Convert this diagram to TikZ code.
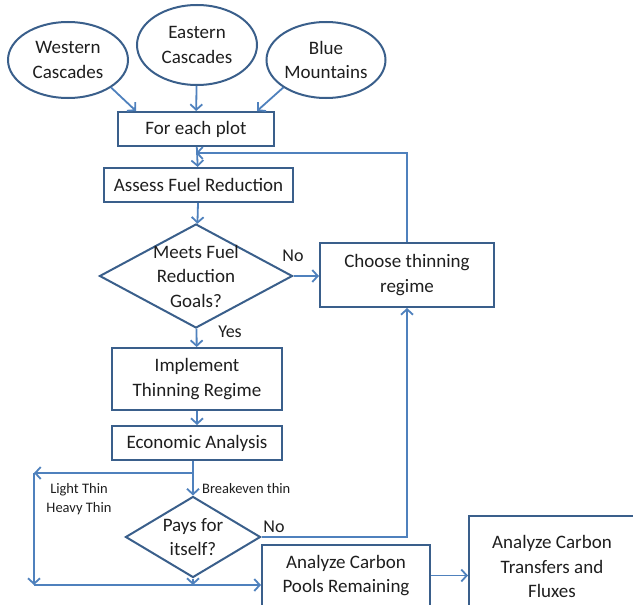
\documentclass[tikz,border=0pt]{standalone}
\usepackage{fontspec}
\setmainfont{Carlito}
\usepackage{tikz}
\usetikzlibrary{shapes.geometric, arrows.meta}
\definecolor{linkblue}{RGB}{79,129,189}
\definecolor{edgeblue}{RGB}{58,95,139}
\definecolor{inktext}{RGB}{30,30,30}
\tikzset{
  box/.style={draw=edgeblue, line width=2pt, rectangle, align=center, text=inktext,
    font=\fontsize{19}{24.5}\selectfont, inner sep=0pt},
  region/.style={box, ellipse},
  check/.style={box, diamond, inner sep=-10pt},
  flow/.style={draw=linkblue, line width=1.8pt, -{Straight Barb[length=5.5pt,width=12pt]}},
  tag/.style={text=inktext, font=\fontsize{18}{22}\selectfont, inner sep=0pt},
  small/.style={text=inktext, font=\fontsize{14.5}{19}\selectfont, inner sep=0pt, align=center}
}

\begin{document}
\begin{tikzpicture}[x=1pt, y=-1pt]
      \clip (0,0) rectangle (633,605);
      \node[region, minimum width=120pt, minimum height=76pt] (west) at (68,60) {Western\\Cascades};
      \node[region, minimum width=120pt, minimum height=80pt] (east) at (197,45) {Eastern\\Cascades};
      \node[region, minimum width=119pt, minimum height=76pt] (blue) at (326,60) {Blue\\Mountains};
      \node[box, minimum width=156pt, minimum height=34pt] (plot) at (196,129) {For each plot};
      \node[box, minimum width=189pt, minimum height=34pt] (assess) at (198.5,185) {Assess Fuel Reduction};
      \node[check, aspect=1.86, minimum width=193pt, minimum height=104pt] (meets) at (196,276) {Meets Fuel\\Reduction\\Goals?};
      \node[box, minimum width=174pt, minimum height=64pt] (choose) at (407,275) {Choose thinning\\regime};
      \node[box, minimum width=170pt, minimum height=62pt] (implement) at (197,379) {Implement\\Thinning Regime};
      \node[box, minimum width=170pt, minimum height=34pt] (econ) at (197,443) {Economic Analysis};
      \node[check, aspect=1.67, minimum width=135pt, minimum height=81pt] (pays) at (193,537) {Pays for\\itself?};
      \node[box, minimum width=168pt, minimum height=61pt] (pools) at (346,575.5) {Analyze Carbon\\Pools Remaining};
      \node[box, minimum width=166pt, minimum height=101pt] (fluxes) at (552,566.5) {Analyze Carbon\\Transfers and\\Fluxes};

      \node[tag] (nomeets) at (293,256) {No};
      \node[tag] (yes) at (230,332) {Yes};
      \node[tag] (nopays) at (274,527) {No};
      \node[small, anchor=west] (breakeven) at (202,489) {Breakeven thin};
      \node[small] (lightheavy) at (79,499) {Light Thin\\Heavy Thin};

      \coordinate (loop) at (196,153);
      \coordinate (split) at (193,473);
      \coordinate (lefttop) at (34,473);
      \coordinate (leftbot) at (34,585);

      \draw[flow] (west.south east) -- ([xshift=19pt]plot.north west);
      \draw[flow] (east) -- (plot);
      \draw[flow] (blue.south west) -- ([xshift=-18pt]plot.north east);
      \draw[flow] (plot) -- (assess);
      \draw[flow] (choose.north) |- (loop);
      \draw[flow] (assess) -- (meets);
      \draw[flow] (meets.east) -- (meets.east -| choose.west);
      \draw[flow] (meets) -- (implement);
      \draw[flow] (implement) -- (econ);
      \draw[flow] (econ.south -| pays.north) -- (pays.north);
      \draw[flow] (split) -- (lefttop);
      \draw[flow] (lefttop) -- (leftbot);
      \draw[flow] (leftbot) -- (leftbot -| pools.west);
      \draw[flow] (pays.south) -- (pays.south |- leftbot);
      \draw[flow] (pays.east) -| (choose.south);
      \draw[flow] (pools.east) -- (pools.east -| fluxes.west);
\end{tikzpicture}
\end{document}
